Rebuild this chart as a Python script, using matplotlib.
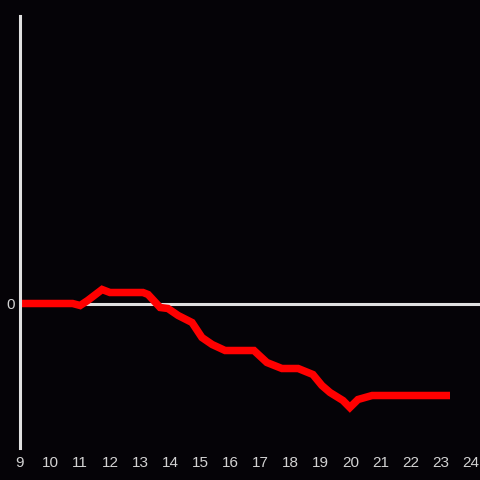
import matplotlib
matplotlib.use("Agg")
import matplotlib.pyplot as plt

# Values (x = hour of day, y = arbitrary units, 0 = baseline)
hours = [9.0, 10.75, 11.0, 11.25, 11.73, 11.99, 13.09, 13.26, 13.66, 13.92,
         14.26, 14.72, 15.05, 15.39, 15.82, 16.78, 17.21, 17.71, 18.25, 18.74,
         19.04, 19.31, 19.74, 19.97, 20.24, 20.71, 23.3]
values = [0.0, 0.0, -0.2, 0.3, 1.4, 1.1, 1.1, 0.9, -0.4, -0.5,
          -1.2, -1.9, -3.4, -4.1, -4.7, -4.7, -5.9, -6.5, -6.5, -7.1,
          -8.2, -8.9, -9.7, -10.4, -9.6, -9.2, -9.2]
xticks = list(range(9, 25))

BG = "#050307"
AXIS = "#e0e0e0"
TEXT = "#d2d2d2"

plt.rcParams["font.family"] = ["Liberation Sans", "DejaVu Sans"]

fig = plt.figure(figsize=(4.8, 4.8), dpi=100, facecolor=BG)
ax = fig.add_axes([20 / 480, 32 / 480, 460 / 480, 432 / 480], facecolor=BG)

ax.axhline(0, color=AXIS, lw=2.2, zorder=1)
ax.plot(hours, values, color="#ff0000", lw=5.4, solid_joinstyle="miter",
        solid_capstyle="butt", zorder=2)

ax.set_xlim(9, 9 + 460 / 30.07)
ax.set_ylim(-14.45, 28.75)
ax.set_xticks(xticks)
ax.set_yticks([0])
ax.tick_params(length=0, colors=TEXT, labelsize=11)
ax.tick_params(axis="x", pad=6)
ax.tick_params(axis="y", pad=4)

for side in ["top", "right", "bottom"]:
    ax.spines[side].set_visible(False)
ax.spines["left"].set_color(AXIS)
ax.spines["left"].set_linewidth(2.2)

fig.savefig("out.png", dpi=100, facecolor=BG)
